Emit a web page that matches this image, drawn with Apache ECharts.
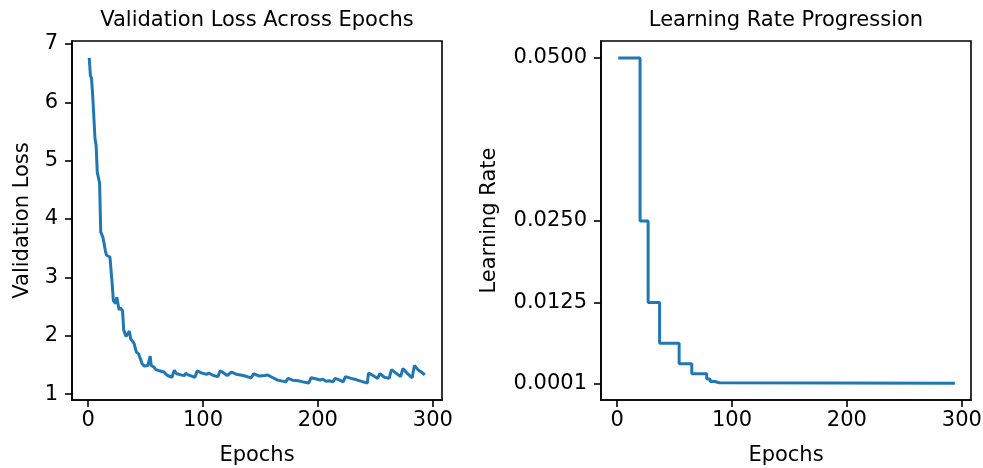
<!DOCTYPE html>
<html>
<head>
<meta charset="utf-8">
<script src="https://cdn.jsdelivr.net/npm/echarts@6/dist/echarts.min.js"></script>
<style>
  html, body { margin: 0; padding: 0; background: #fff; }
  #chart { width: 983px; height: 468px; }
</style>
</head>
<body>
<div id="chart"></div>
<script>
// validation loss
const lossEpochs = [1, 2, 3, 4, 6, 7, 8, 10, 11, 13, 15, 16, 17, 19, 21, 22, 24, 25, 27, 28,
  30, 31, 33, 34, 36, 37, 38, 40, 42, 44, 45, 47, 49, 52, 54, 55, 57, 59, 62, 66,
  69, 73, 75, 77, 81, 84, 85, 87, 93, 95, 99, 103, 105, 109, 113, 115, 119, 121, 125, 129,
  135, 142, 144, 149, 154, 156, 160, 165, 172, 174, 178, 183, 187, 192, 194, 199, 202, 204, 207, 210,
  213, 215, 219, 222, 224, 229, 233, 238, 243, 244, 248, 252, 254, 258, 262, 264, 268, 272, 274, 278,
  282, 284, 287, 290, 293]
const lossValues = [6.76, 6.46, 6.41, 6.12, 5.38, 5.26, 4.80, 4.62, 3.78, 3.68, 3.46, 3.38, 3.35, 3.35, 2.88, 2.60, 2.55, 2.66, 2.44, 2.48,
  2.43, 2.10, 1.99, 1.98, 2.08, 1.95, 1.92, 1.87, 1.72, 1.69, 1.68, 1.52, 1.48, 1.49, 1.65, 1.49, 1.47, 1.42, 1.40, 1.38,
  1.32, 1.29, 1.41, 1.35, 1.33, 1.32, 1.36, 1.33, 1.29, 1.40, 1.36, 1.34, 1.36, 1.32, 1.30, 1.40, 1.35, 1.32, 1.38, 1.34,
  1.32, 1.28, 1.35, 1.31, 1.32, 1.33, 1.29, 1.24, 1.21, 1.27, 1.24, 1.23, 1.21, 1.19, 1.28, 1.26, 1.24, 1.26, 1.22, 1.23,
  1.21, 1.27, 1.24, 1.21, 1.30, 1.27, 1.25, 1.22, 1.19, 1.36, 1.32, 1.27, 1.35, 1.29, 1.27, 1.42, 1.36, 1.30, 1.44, 1.35,
  1.28, 1.49, 1.42, 1.38, 1.33]

// learning rate schedule: epoch where each new value starts
const lrEpochs = [1, 20, 27, 37, 54, 65, 78, 81, 85, 89, 294]
const lrValues = [0.05, 0.025, 0.0125, 0.00625, 0.003125, 0.0015625, 0.00078125, 0.000390625, 0.0001953125, 0.0001, 0.0001]

const epochTicks = [0, 100, 200, 300]
const lossTicks = [1, 2, 3, 4, 5, 6, 7]
const lrTicks = [0.0001, 0.0125, 0.025, 0.05]

const font = 'DejaVu Sans'
const blue = '#1f77b4'
const fs = 21

function xAxisOpt(gridIndex) {
  return {
    type: 'value',
    gridIndex: gridIndex,
    min: -14,
    max: 308,
    name: 'Epochs',
    nameLocation: 'middle',
    nameGap: 45,
    nameTextStyle: { color: '#000', fontSize: fs, fontFamily: font },
    axisLine: { show: true, onZero: false, lineStyle: { color: '#000', width: 1.6 } },
    axisTick: { show: true, customValues: epochTicks, length: 7, lineStyle: { color: '#000', width: 1.6 } },
    axisLabel: { customValues: epochTicks, color: '#000', fontSize: fs, fontFamily: font, margin: 10 },
    splitLine: { show: false }
  }
}

const chart = echarts.init(document.getElementById('chart'), null, { renderer: 'canvas' })

chart.setOption({
  animation: false,
  backgroundColor: '#fff',
  title: [
    {
      text: 'Validation Loss Across Epochs',
      left: 252, top: 5, textAlign: 'center',
      textStyle: { color: '#000', fontSize: fs, fontWeight: 'normal', fontFamily: font }
    },
    {
      text: 'Learning Rate Progression',
      left: 781, top: 5, textAlign: 'center',
      textStyle: { color: '#000', fontSize: fs, fontWeight: 'normal', fontFamily: font }
    }
  ],
  grid: [
    { left: 72, top: 41, width: 370, height: 359, outerBoundsMode: 'none', containLabel: false,
      show: true, borderColor: '#000', borderWidth: 1.6 },
    { left: 601, top: 41, width: 370, height: 359, outerBoundsMode: 'none', containLabel: false,
      show: true, borderColor: '#000', borderWidth: 1.6 }
  ],
  xAxis: [xAxisOpt(0), xAxisOpt(1)],
  yAxis: [
    {
      type: 'value',
      gridIndex: 0,
      min: 0.9,
      max: 7.05,
      name: 'Validation Loss',
      nameLocation: 'middle',
      nameGap: 39,
      nameTextStyle: { color: '#000', fontSize: fs, fontFamily: font },
      axisLine: { show: true, onZero: false, lineStyle: { color: '#000', width: 1.6 } },
      axisTick: { show: true, customValues: lossTicks, length: 7, lineStyle: { color: '#000', width: 1.6 } },
      axisLabel: { customValues: lossTicks, color: '#000', fontSize: fs, fontFamily: font, margin: 14 },
      splitLine: { show: false }
    },
    {
      type: 'value',
      gridIndex: 1,
      min: -0.00245,
      max: 0.0526,
      name: 'Learning Rate',
      nameLocation: 'middle',
      nameGap: 101,
      nameTextStyle: { color: '#000', fontSize: fs, fontFamily: font },
      axisLine: { show: true, onZero: false, lineStyle: { color: '#000', width: 1.6 } },
      axisTick: { show: true, customValues: lrTicks, length: 7, lineStyle: { color: '#000', width: 1.6 } },
      axisLabel: {
        customValues: lrTicks, color: '#000', fontSize: fs, fontFamily: font, margin: 14,
        formatter: v => v.toFixed(4)
      },
      splitLine: { show: false }
    }
  ],
  series: [
    {
      type: 'line',
      xAxisIndex: 0,
      yAxisIndex: 0,
      data: lossEpochs.map((e, i) => [e, lossValues[i]]),
      showSymbol: false,
      lineStyle: { color: blue, width: 3 },
      itemStyle: { color: blue }
    },
    {
      type: 'line',
      xAxisIndex: 1,
      yAxisIndex: 1,
      step: 'end',
      data: lrEpochs.map((e, i) => [e, lrValues[i]]),
      showSymbol: false,
      lineStyle: { color: blue, width: 3 },
      itemStyle: { color: blue }
    }
  ]
})
</script>
</body>
</html>
